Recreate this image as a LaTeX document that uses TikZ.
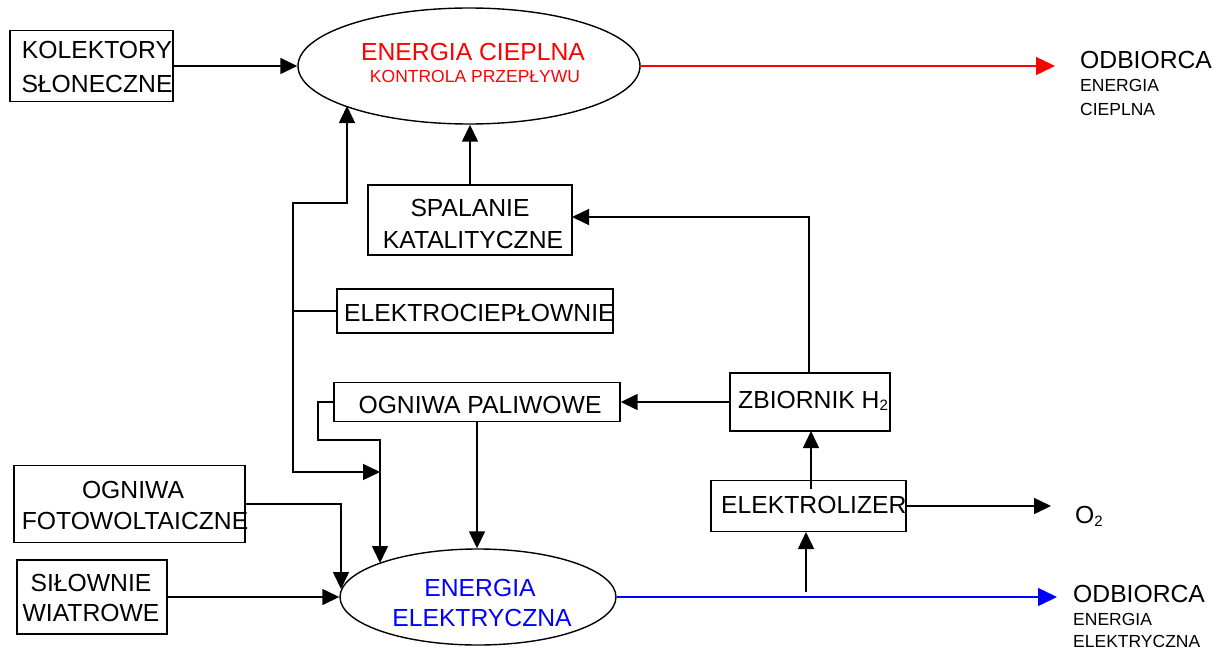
\documentclass[tikz,border=0pt]{standalone}
\usepackage{fontspec}
\setmainfont{Liberation Sans}
\usetikzlibrary{arrows.meta,shapes.geometric}
\begin{document}
\begin{tikzpicture}[x=1pt,y=-1pt,
  bx/.style={draw, line width=1.4pt, rectangle, inner sep=0pt},
  ell/.style={draw, line width=1.4pt, ellipse, inner sep=0pt},
  big/.style={font=\fontsize{24.7}{28}\selectfont, inner sep=0pt, text height=17.6pt, text depth=0pt},
  sml/.style={font=\fontsize{17.5}{20}\selectfont, inner sep=0pt, text height=12.5pt, text depth=0pt},
  ln/.style={line width=1.5pt},
  arr/.style={ln, -{Triangle[length=17pt,width=16pt]}},
  darr/.style={ln, {Triangle[length=17pt,width=16pt]}-{Triangle[length=17pt,width=16pt]}},
  outarr/.style={line width=1.4pt, -{Triangle[length=19pt,width=18pt]}},
]
\useasboundingbox (0,0) rectangle (1214,650);

% boxes
\node[bx, minimum width=163pt, minimum height=71pt] (kol) at (91.5,66) {};
\node[bx, minimum width=204pt, minimum height=70pt] (spal) at (470,220) {};
\node[bx, minimum width=276pt, minimum height=44pt] (elcp) at (475,311) {};
\node[bx, minimum width=286pt, minimum height=39pt] (ogpal) at (477,402) {};
\node[bx, minimum width=160pt, minimum height=58pt] (zbior) at (810,402) {};
\node[bx, minimum width=195pt, minimum height=51pt] (elz) at (808.5,506) {};
\node[bx, minimum width=231pt, minimum height=77pt] (foto) at (129.5,504) {};
\node[bx, minimum width=150pt, minimum height=74pt] (silo) at (92,597) {};

% ellipses
\node[ell, minimum width=342pt, minimum height=116pt] (heat) at (469,66) {};
\node[ell, minimum width=276pt, minimum height=96pt] (elec) at (478,597) {};

% texts
\node[big] (kolt1) at (97,50) {KOLEKTORY};
\node[big] (kolt2) at (97,84) {SŁONECZNE};
\node[big, text=red] (heatt1) at (473,52) {ENERGIA CIEPLNA};
\node[sml, text=red] (heatt2) at (475,76) {KONTROLA PRZEPŁYWU};
\node[big, anchor=west] (odb1) at (1080,60) {ODBIORCA};
\node[sml, anchor=west] (odb1b) at (1080,85) {ENERGIA};
\node[sml, anchor=west] (odb1c) at (1080,109) {CIEPLNA};
\node[big] (spalt1) at (470,208) {SPALANIE};
\node[big] (spalt2) at (473,240) {KATALITYCZNE};
\node[big, anchor=west] (elcpt) at (344,313) {ELEKTROCIEPŁOWNIE};
\node[big] (ogpalt) at (480,405) {OGNIWA PALIWOWE};
\node[big, anchor=west] (zbiort) at (738,400) {ZBIORNIK H\raisebox{-2pt}{\fontsize{15}{15}\selectfont 2}};
\node[big, anchor=west] (elzt) at (721,505) {ELEKTROLIZER};
\node[big, anchor=west] (o2t) at (1075,515) {O\raisebox{-3pt}{\fontsize{15}{15}\selectfont 2}};
\node[big] (fotot1) at (133,490) {OGNIWA};
\node[big] (fotot2) at (135,521) {FOTOWOLTAICZNE};
\node[big] (silot1) at (91,583) {SIŁOWNIE};
\node[big] (silot2) at (91,613) {WIATROWE};
\node[big, text=blue] (elect1) at (480,588) {ENERGIA};
\node[big, text=blue] (elect2) at (482,618) {ELEKTRYCZNA};
\node[big, anchor=west] (odb2) at (1073,594) {ODBIORCA};
\node[sml, anchor=west] (odb2b) at (1073,619) {ENERGIA};
\node[sml, anchor=west] (odb2c) at (1073,641) {ELEKTRYCZNA};

% coordinates
\coordinate (odb1tip) at (1055,66);
\coordinate (odb2tip) at (1057,597);
\coordinate (heatin) at (347,106);
\coordinate (bus1) at (347,203);
\coordinate (bus2) at (293,203);
\coordinate (bus3) at (293,472);
\coordinate (bus4) at (380,472);
\coordinate (op1) at (318,402);
\coordinate (op2) at (318,440);
\coordinate (op3) at (380,440);
\coordinate (elecin1) at (380,563);
\coordinate (fo1) at (341,504);
\coordinate (elecin2) at (341,589);
\coordinate (tap) at (806,592);
\coordinate (elzin) at (806,532);
\coordinate (elzup) at (811,489);
\coordinate (zbin) at (811,431);
\coordinate (zbtop) at (809,373);
\coordinate (zbc) at (809,217);
\coordinate (spin) at (572,217);
\coordinate (o2tip) at (1051,506);

% connectors
\draw[arr] (kol.east) -- (heat.west);
\draw[outarr, red] (heat.east) -- (odb1tip);
\draw[arr] (spal.north) -- (spal.north |- heat.south);
\draw[darr] (heatin) -- (bus1) -- (bus2) -- (bus3) -- (bus4);
\draw[ln] (elcp.west) -- (elcp.west -| bus2);
\draw[arr] (ogpal.west) -- (op1) -- (op2) -- (op3) -- (elecin1);
\draw[arr] (ogpal.south) -- (ogpal.south |- elec.north);
\draw[arr] (foto.east) -- (fo1) -- (elecin2);
\draw[arr] (silo.east) -- (elec.west);
\draw[outarr, blue] (elec.east) -- (odb2tip);
\draw[arr] (tap) -- (elzin);
\draw[arr] (elzup) -- (zbin);
\draw[arr] (elz.east) -- (o2tip);
\draw[arr] (zbior.west) -- (ogpal.east);
\draw[arr] (zbtop) -- (zbc) -- (spin);
\end{tikzpicture}
\end{document}
